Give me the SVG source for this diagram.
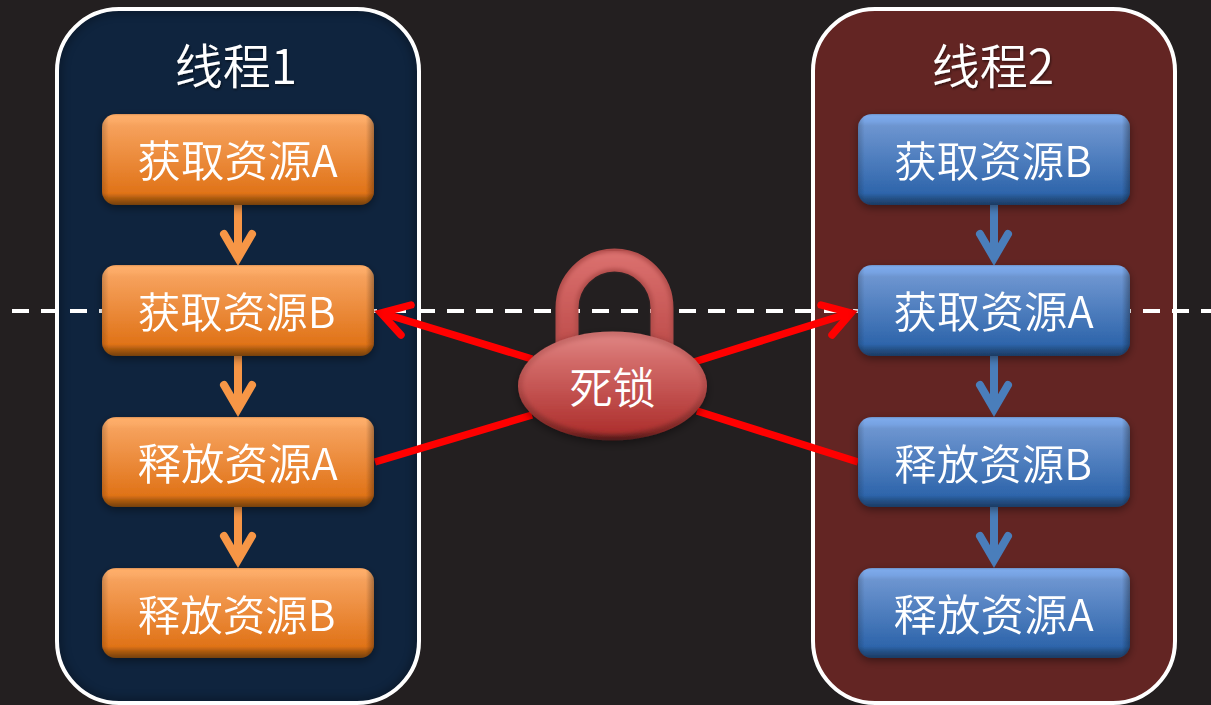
<svg xmlns="http://www.w3.org/2000/svg" width="1211" height="705" viewBox="0 0 1211 705">
<style>
text{font-family:"Noto Sans CJK SC","Noto Sans",sans-serif;fill:#fff;text-anchor:middle;font-weight:350}
.t{font-size:43.500px}
.tb{font-size:42.500px}
.h{font-size:48px;filter:url(#ts)}
.panel{stroke:#fff;stroke-width:4}
.o{fill:url(#og)}.b{fill:url(#bg)}
.edge{fill:url(#edge)}
.ol{stroke:#f79646}.bl{stroke:#4a7ebb}
.v{fill:none;stroke-width:8}
.vh{fill:none;stroke-width:8;stroke-linecap:round;stroke-linejoin:miter;stroke-miterlimit:10}
.r{fill:none;stroke:#f00;stroke-width:7.500}
.rh{fill:none;stroke:#f00;stroke-width:7.500;stroke-linecap:round;stroke-linejoin:miter}
</style>
<defs>
<linearGradient id="og" x1="0" y1="0" x2="0" y2="1">
<stop offset="0" stop-color="#d98f55"/><stop offset=".02" stop-color="#ffae68"/><stop offset=".08" stop-color="#fbaa66"/><stop offset=".13" stop-color="#f6a15c"/><stop offset=".87" stop-color="#e07318"/><stop offset=".93" stop-color="#a9590f"/><stop offset="1" stop-color="#74400f"/>
</linearGradient>
<linearGradient id="bg" x1="0" y1="0" x2="0" y2="1">
<stop offset="0" stop-color="#6c8fc4"/><stop offset=".02" stop-color="#7daaeb"/><stop offset=".08" stop-color="#77a3e3"/><stop offset=".13" stop-color="#6d95d0"/><stop offset=".87" stop-color="#2e65ab"/><stop offset=".93" stop-color="#245085"/><stop offset="1" stop-color="#1c3a63"/>
</linearGradient>
<linearGradient id="edge" x1="0" y1="0" x2="1" y2="0">
<stop offset="0" stop-color="#000" stop-opacity=".18"/><stop offset=".025" stop-color="#000" stop-opacity="0"/><stop offset=".97" stop-color="#000" stop-opacity="0"/><stop offset="1" stop-color="#000" stop-opacity=".32"/>
</linearGradient>
<linearGradient id="lock" x1="0" y1="0" x2="0" y2="1">
<stop offset="0" stop-color="#c96e6c"/><stop offset=".5" stop-color="#b04a48"/><stop offset=".92" stop-color="#7c2624"/><stop offset="1" stop-color="#4e1a19"/>
</linearGradient>
<linearGradient id="lock2" x1="0" y1="0" x2="0" y2="1">
<stop offset="0" stop-color="#de8482"/><stop offset=".25" stop-color="#d26b69"/><stop offset="1" stop-color="#ad2f2d"/>
</linearGradient>
<linearGradient id="sh" gradientUnits="userSpaceOnUse" x1="0" y1="250" x2="0" y2="340">
<stop offset="0" stop-color="#dc7270"/><stop offset="1" stop-color="#c04f4d"/>
</linearGradient>
<filter id="ds" x="-10%" y="-15%" width="120%" height="135%"><feDropShadow dx="0" dy="3" stdDeviation="4" flood-color="#000" flood-opacity=".4"/></filter>
<filter id="ts" x="-10%" y="-10%" width="120%" height="125%"><feDropShadow dx="1" dy="1.500" stdDeviation="1" flood-color="#000" flood-opacity=".5"/></filter>
<filter id="bl" x="-10%" y="-10%" width="120%" height="120%"><feGaussianBlur stdDeviation="5"/></filter>
<filter id="bl3" x="-10%" y="-10%" width="120%" height="120%"><feGaussianBlur stdDeviation="2"/></filter>
<clipPath id="cl"><rect x="57" y="9" width="362" height="694" rx="62"/></clipPath>
<clipPath id="cs"><path d="M555 345V308A59 59 0 0 1 674 308V345Z"/></clipPath>
</defs>
<rect width="1211" height="705" fill="#231f20"/>

<g id="thread1">
<rect x="57" y="9" width="362" height="694" rx="62" fill="#0f243e"/>
<rect x="57" y="9" width="362" height="694" rx="62" fill="none" stroke="#000" stroke-width="8" opacity=".35" filter="url(#bl)" clip-path="url(#cl)"/>
<rect class="panel" x="57" y="9" width="362" height="694" rx="62" fill="none"/>
<text class="h" x="236" y="84">线程1</text>
</g>
<g id="thread2">
<rect x="813" y="9" width="362" height="694" rx="62" fill="#632523"/>
<rect class="panel" x="813" y="9" width="362" height="694" rx="62" fill="none"/>
<text class="h" x="993" y="84">线程2</text>
</g>

<line id="divider" x1="12" y1="311" x2="1211" y2="311" stroke="#fff" stroke-width="4" stroke-dasharray="17 12"/>

<g id="connectors">
<g class="ol">
<path class="v" d="M238 205V258M238 356V410M238 507V561"/>
<path class="vh" d="M224 234L238 258L252 234M224 385L238 409L252 385M224 536L238 560L252 536"/>
</g>
<g class="bl">
<path class="v" d="M994 205V258M994 356V410M994 507V561"/>
<path class="vh" d="M980 234L994 258L1008 234M980 385L994 409L1008 385M980 536L994 560L1008 536"/>
</g>
<path class="r" d="M532 359L382 313M694 362L850 313M532 415L375 462M697 411L858 462"/>
<path class="rh" d="M411 305L381 313L401 335M821 305L851 313L832 335"/>
</g>

<g id="a1" filter="url(#ds)"><rect class="o" x="102" y="114" width="272" height="91" rx="14"/><rect class="edge" x="102" y="114" width="272" height="91" rx="14"/><text class="t" x="237.500" y="177">获取资源A</text></g>
<g id="a2" filter="url(#ds)"><rect class="o" x="102" y="265" width="272" height="91" rx="14"/><rect class="edge" x="102" y="265" width="272" height="91" rx="14"/><text class="tb" x="236.500" y="328">获取资源B</text></g>
<g id="a3" filter="url(#ds)"><rect class="o" x="102" y="417" width="272" height="90" rx="14"/><rect class="edge" x="102" y="417" width="272" height="90" rx="14"/><text class="t" x="237.500" y="480">释放资源A</text></g>
<g id="a4" filter="url(#ds)"><rect class="o" x="102" y="568" width="272" height="90" rx="14"/><rect class="edge" x="102" y="568" width="272" height="90" rx="14"/><text class="tb" x="236.500" y="631">释放资源B</text></g>

<g id="b1" filter="url(#ds)"><rect class="b" x="858" y="114" width="272" height="91" rx="14"/><rect class="edge" x="858" y="114" width="272" height="91" rx="14"/><text class="tb" x="993" y="177">获取资源B</text></g>
<g id="b2" filter="url(#ds)"><rect class="b" x="858" y="265" width="272" height="91" rx="14"/><rect class="edge" x="858" y="265" width="272" height="91" rx="14"/><text class="t" x="993.500" y="328">获取资源A</text></g>
<g id="b3" filter="url(#ds)"><rect class="b" x="858" y="417" width="272" height="90" rx="14"/><rect class="edge" x="858" y="417" width="272" height="90" rx="14"/><text class="tb" x="993" y="480">释放资源B</text></g>
<g id="b4" filter="url(#ds)"><rect class="b" x="858" y="568" width="272" height="90" rx="14"/><rect class="edge" x="858" y="568" width="272" height="90" rx="14"/><text class="t" x="993.500" y="631">释放资源A</text></g>

<g id="lock-node">
<path d="M567 345V308A47.500 48 0 0 1 662 308V345" fill="none" stroke="#b04c4a" stroke-width="23"/>
<path d="M567 345V308A47.500 48 0 0 1 662 308V345" fill="none" stroke="url(#sh)" stroke-width="17" filter="url(#bl3)" clip-path="url(#cs)"/>
<ellipse cx="612.500" cy="386" rx="94.500" ry="54.500" fill="url(#lock)" filter="url(#ds)"/>
<ellipse cx="612.500" cy="385" rx="90" ry="49" fill="url(#lock2)" filter="url(#bl3)"/>
<text x="612.500" y="404" style="font-size:43px">死锁</text>
</g>
</svg>
